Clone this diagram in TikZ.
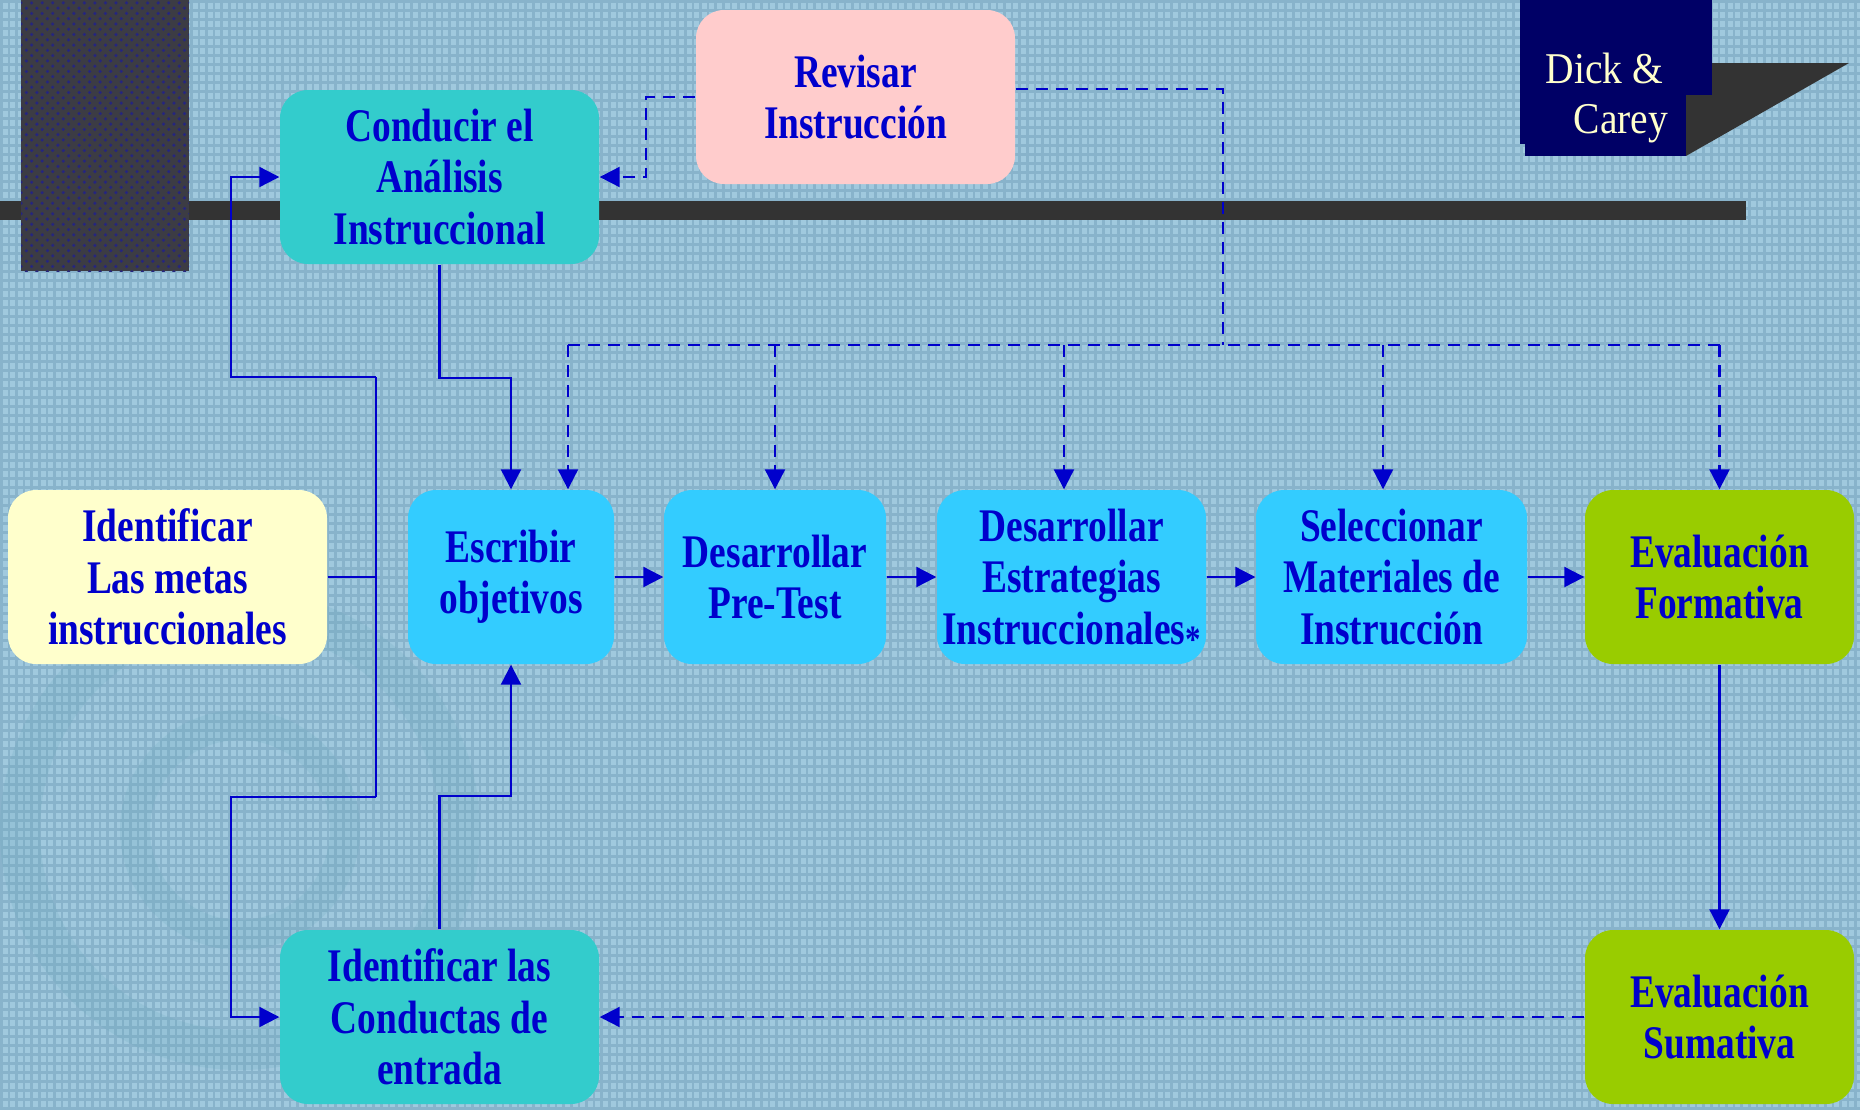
\documentclass[tikz,border=0pt]{standalone}
\usepackage{fontspec}
\setmainfont{Liberation Serif}
\newfontfamily\boxfont{Liberation Serif Bold}[FakeStretch=0.8]
\newfontfamily\dcfont{Liberation Serif}[FakeStretch=0.9]
\usetikzlibrary{arrows.meta,patterns}
\definecolor{bgc}{HTML}{A0C9DE}
\definecolor{meshc}{HTML}{88B3CB}
\definecolor{wmark}{HTML}{5FA3B5}
\definecolor{tblue}{HTML}{0000CC}
\definecolor{cteal}{HTML}{33CCCC}
\definecolor{cpink}{HTML}{FFCCCC}
\definecolor{cyell}{HTML}{FFFFCC}
\definecolor{ccyan}{HTML}{33CCFF}
\definecolor{cgreen}{HTML}{99CC00}
\definecolor{cnavy}{HTML}{000066}
\definecolor{cdark}{HTML}{333333}
\definecolor{ctex}{HTML}{3C3C44}
\definecolor{ccream}{HTML}{FFFFCC}
\begin{document}
\begin{tikzpicture}[x=0.1mm,y=-0.1mm,
  box/.style={rectangle, rounded corners=2.8mm, align=center, inner sep=0pt,
    text=tblue, font=\boxfont\fontsize{13.3}{14.6}\selectfont, minimum height=17.4mm},
  conn/.style={draw=tblue, line width=0.22mm},
  arr/.style={conn, -{Triangle[length=2mm,width=2mm]}},
  dsh/.style={dash pattern=on 1.2mm off 0.8mm},
  dclabel/.style={anchor=base west, inner sep=0pt, text=ccream, font=\dcfont\fontsize{12.5}{14}\selectfont}
]
\useasboundingbox (0,0) rectangle (1860,1110);
% background with mesh
\fill[bgc] (0,0) rectangle (1860,1110);
\foreach \i in {0,...,245} \fill[meshc] ({\i*7.6},0) rectangle ({\i*7.6+2.6},1110);
\foreach \j in {0,...,123} \fill[meshc] (0,{\j*9}) rectangle (1860,{\j*9+2.6});
% faint watermark
\draw[wmark, line width=4mm, opacity=0.16] (240,830) circle (220);
\draw[wmark, line width=3mm, opacity=0.16] (240,830) circle (105);
% dark bar and textured block
\fill[cdark] (0,201) rectangle (1746,220);
\fill[ctex] (21,0) rectangle (189,271);
\fill[pattern=crosshatch dots, pattern color=cnavy!85] (21,0) rectangle (189,271);
% Dick & Carey tag
\fill[cdark] (1686,63) -- (1849,63) -- (1686,156) -- cycle;
\fill[cnavy] (1520,0) rectangle (1712,95);
\fill[cnavy] (1520,95) rectangle (1686,144);
\fill[cnavy] (1525,144) rectangle (1686,156);
\node[dclabel] (dick) at (1545,83) {Dick \&};
\node[dclabel] (carey) at (1573,133) {Carey};
% boxes
\node[box, fill=cteal, minimum width=31.9mm] (conducir) at (439.5,177) {Conducir el\\Análisis\\Instruccional};
\node[box, fill=cpink, minimum width=31.9mm] (revisar) at (855.5,97) {Revisar\\Instrucción};
\node[box, fill=cyell, minimum width=31.9mm] (metas) at (167.5,577) {Identificar\\Las metas\\instruccionales};
\node[box, fill=ccyan, minimum width=20.6mm] (escribir) at (511,577) {Escribir\\objetivos};
\node[box, fill=ccyan, minimum width=22.2mm] (pretest) at (775,577) {Desarrollar\\Pre-Test};
\node[box, fill=ccyan, minimum width=26.9mm] (estrat) at (1071.5,577) {Desarrollar\\Estrategias\\Instruccionales{\fontsize{11}{11}\selectfont\raisebox{-0.22em}[0pt][0pt]{*}}};
\node[box, fill=ccyan, minimum width=27.1mm] (selec) at (1391.5,577) {Seleccionar\\Materiales de\\Instrucción};
\node[box, fill=cgreen, minimum width=26.9mm] (format) at (1719.5,577) {Evaluación\\Formativa};
\node[box, fill=cgreen, minimum width=26.9mm] (sumat) at (1719.5,1017) {Evaluación\\Sumativa};
\node[box, fill=cteal, minimum width=31.9mm] (conductas) at (439.5,1017) {Identificar las\\Conductas de\\entrada};
% solid connectors
\coordinate (jm) at (376,577);
\coordinate (jt) at (376,377);
\coordinate (jb) at (376,797);
\draw[conn] (metas.east) -- (jm);
\draw[conn] (jt) -- (jb);
\draw[arr] (jt) -- ++(-145,0) |- (conducir.west);
\draw[arr] (jb) -- ++(-145,0) |- (conductas.west);
\draw[arr] (conducir.south) -- ++(0,113) -| (escribir.north);
\draw[arr] (conductas.north) -- ++(0,-133) -| (escribir.south);
\draw[arr] (escribir.east) -- (pretest.west);
\draw[arr] (pretest.east) -- (estrat.west);
\draw[arr] (estrat.east) -- (selec.west);
\draw[arr] (selec.east) -- (format.west);
\draw[arr] (format.south) -- (sumat.north);
% dashed connectors
\draw[arr,dsh] (sumat.west) -- (conductas.east);
\draw[arr,dsh] (revisar.west) -- ++(-49,0) |- (conducir.east);
\coordinate (rt) at (1223,345);
\coordinate (e1) at ([xshift=5.7mm]escribir.north);
\coordinate (e3) at ([xshift=-0.75mm]estrat.north);
\coordinate (e4) at ([xshift=-0.85mm]selec.north);
\draw[conn,dsh] ([yshift=0.8mm]revisar.east) -| (rt);
\draw[conn,dsh] (e1 |- rt) -- (format.north |- rt);
\draw[arr,dsh] (e1 |- rt) -- (e1);
\draw[arr,dsh] (pretest.north |- rt) -- (pretest.north);
\draw[arr,dsh] (e3 |- rt) -- (e3);
\draw[arr,dsh] (e4 |- rt) -- (e4);
\draw[arr,dsh] (format.north |- rt) -- (format.north);
\end{tikzpicture}
\end{document}
